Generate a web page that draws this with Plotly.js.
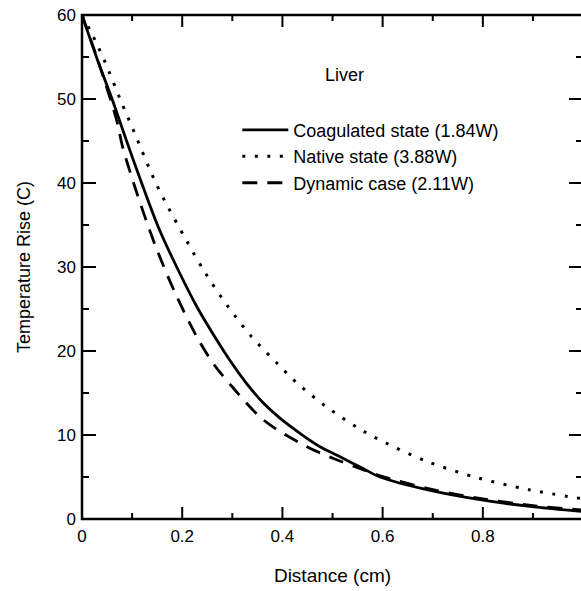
<!DOCTYPE html>
<html>
<head>
<meta charset="utf-8">
<script src="https://cdn.plot.ly/plotly-3.0.1.min.js"></script>
<style>
html,body{margin:0;padding:0;background:#fff;overflow:hidden;}
#chart{width:584px;height:591px;}
</style>
</head>
<body>
<div id="chart"></div>
<script>
// Coagulated state (1.84W) — solid
var coagX = [0, 0.030, 0.060, 0.089, 0.119, 0.152, 0.189, 0.229, 0.269, 0.295, 0.329, 0.362, 0.395, 0.435, 0.475, 0.515, 0.555, 0.595, 0.695, 0.794, 0.894, 1.0];
var coagY = [60, 54.8, 50.0, 45.0, 40.0, 34.8, 30.0, 25.3, 21.3, 18.9, 16.1, 13.8, 12.0, 10.2, 8.6, 7.4, 6.2, 5.0, 3.4, 2.3, 1.5, 0.9];
// Native state (3.88W) — dotted
var natX = [0, 0.016, 0.026, 0.046, 0.076, 0.106, 0.136, 0.158, 0.208, 0.246, 0.289, 0.337, 0.390, 0.427, 0.487, 0.552, 0.598, 0.691, 0.790, 0.891, 1.0];
var natY = [60, 58.2, 57.0, 54.4, 50.0, 45.8, 41.5, 38.7, 33.2, 29.3, 25.5, 21.8, 18.5, 16.3, 13.4, 10.8, 9.3, 6.8, 4.9, 3.5, 2.4];
// Dynamic case (2.11W) — dashed
var dynX = [0, 0.035, 0.069, 0.081, 0.109, 0.146, 0.186, 0.229, 0.262, 0.289, 0.362, 0.449, 0.502, 0.55, 0.6, 0.7, 0.8, 0.9, 1.0];
var dynY = [60, 54.0, 47.5, 44.3, 38.9, 32.6, 26.9, 21.7, 18.5, 16.5, 11.8, 8.6, 7.2, 6.1, 5.05, 3.5, 2.4, 1.6, 1.05];

var seriesNames = ["Coagulated state (1.84W)", "Native state (3.88W)", "Dynamic case (2.11W)"];
var xMajorTicks = [0.2, 0.4, 0.6, 0.8];
var xMinorTicks = [0.1, 0.3, 0.5, 0.7, 0.9];
var yMajorTicks = [10, 20, 30, 40, 50];
var yMinorTicks = [5, 15, 25, 35, 45, 55];
var annotationText = "Liver";
var xTitle = "Distance (cm)";
var yTitle = "Temperature Rise (C)";
var xRange = [0, 0.9999];
var yRange = [0, 60];

var FONT = '"Liberation Sans", Arial, Helvetica, sans-serif';
var INK = '#000';

var traces = [
  {x: coagX, y: coagY, name: seriesNames[0], mode: 'lines',
   line: {color: INK, width: 2.8, shape: 'spline', smoothing: 0.9}},
  {x: natX, y: natY, name: seriesNames[1], mode: 'lines',
   line: {color: INK, width: 3, dash: '3px,9.5px', shape: 'spline', smoothing: 0.9}},
  {x: dynX, y: dynY, name: seriesNames[2], mode: 'lines',
   line: {color: INK, width: 2.8, dash: '15px,10px', shape: 'spline', smoothing: 0.9}}
];

// frame + tick marks (tick positions go through the axis scales)
var shapes = [{
  type: 'rect', xref: 'paper', yref: 'paper', x0: 0, x1: 1, y0: 0, y1: 1,
  line: {color: INK, width: 2.5}, fillcolor: 'rgba(0,0,0,0)', layer: 'above'
}];
function xTick(v, len) {
  var s = {type: 'line', xref: 'x', yref: 'paper', x0: v, x1: v, ysizemode: 'pixel',
           line: {color: INK, width: 2}, layer: 'above'};
  shapes.push(Object.assign({}, s, {yanchor: 0, y0: 0, y1: len}));
  shapes.push(Object.assign({}, s, {yanchor: 1, y0: 0, y1: -len}));
}
function yTick(v, len) {
  var s = {type: 'line', xref: 'paper', yref: 'y', y0: v, y1: v, xsizemode: 'pixel',
           line: {color: INK, width: 2}, layer: 'above'};
  shapes.push(Object.assign({}, s, {xanchor: 0, x0: 0, x1: len}));
  shapes.push(Object.assign({}, s, {xanchor: 1, x0: 0, x1: -len}));
}
xMajorTicks.forEach(function(v){ xTick(v, 12); });
xMinorTicks.forEach(function(v){ xTick(v, 6); });
yMajorTicks.forEach(function(v){ yTick(v, 14); });
yMinorTicks.forEach(function(v){ yTick(v, 7); });

var layout = {
  width: 584, height: 591,
  margin: {l: 82, r: 1, t: 15, b: 72},
  paper_bgcolor: '#fff', plot_bgcolor: '#fff',
  font: {family: FONT, color: INK},
  showlegend: true,
  legend: {
    x: 0.31, y: 0.808, xanchor: 'left', yanchor: 'top',
    bgcolor: 'rgba(0,0,0,0)', borderwidth: 0,
    font: {family: FONT, size: 18, color: INK},
    itemwidth: 46, tracegroupgap: 0
  },
  xaxis: {
    range: xRange, tickmode: 'linear', tick0: 0, dtick: 0.2,
    showline: true, linecolor: 'rgba(0,0,0,0)', linewidth: 2.5,
    ticks: 'inside', ticklen: 12, tickwidth: 2, tickcolor: 'rgba(0,0,0,0)',
    showgrid: false, zeroline: false,
    tickfont: {family: FONT, size: 17, color: INK},
    title: {text: xTitle, font: {family: FONT, size: 19, color: INK}, standoff: 24}
  },
  yaxis: {
    range: yRange, tickmode: 'linear', tick0: 0, dtick: 10,
    showline: true, linecolor: 'rgba(0,0,0,0)', linewidth: 2.5,
    ticks: 'inside', ticklen: 14, tickwidth: 2, tickcolor: 'rgba(0,0,0,0)',
    showgrid: false, zeroline: false,
    tickfont: {family: FONT, size: 17, color: INK},
    title: {text: yTitle, font: {family: FONT, size: 18, color: INK}, standoff: 22}
  },
  shapes: shapes,
  annotations: [{
    text: annotationText, xref: 'paper', yref: 'paper',
    x: 0.523, y: 0.881, xanchor: 'center', yanchor: 'middle', showarrow: false,
    font: {family: FONT, size: 18, color: INK}
  }]
};

Plotly.newPlot('chart', traces, layout, {displayModeBar: false});
</script>
</body>
</html>
